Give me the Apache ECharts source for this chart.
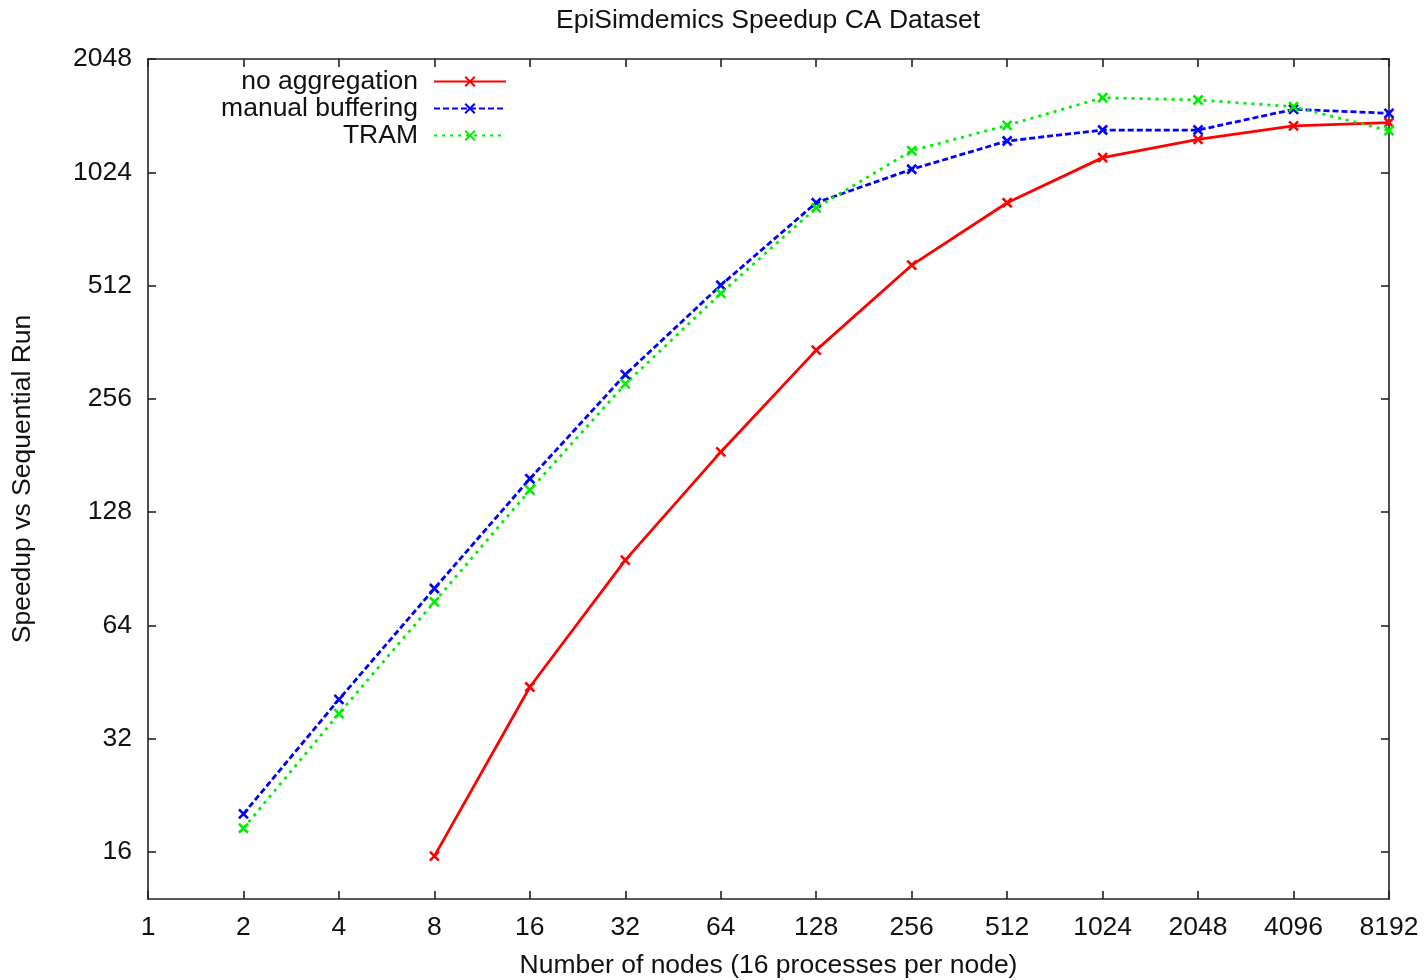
<!DOCTYPE html>
<html>
<head>
<meta charset="utf-8">
<script src="https://cdn.jsdelivr.net/npm/echarts@6/dist/echarts.min.js"></script>
<style>
  html, body { margin: 0; padding: 0; background: #fff; }
  #chart { width: 1424px; height: 980px; }
</style>
</head>
<body>
<div id="chart"></div>
<script>
// nodes (x) and speedup per series
const nodes = [2, 4, 8, 16, 32, 64, 128, 256, 512, 1024, 2048, 4096, 8192]
const noAggregation = [null, null, 15.6, 43.9, 95.4, 185, 345, 580, 850, 1120, 1253, 1360, 1387]
const manualBuffering = [20.2, 40.7, 80.2, 157, 297, 513, 850, 1043, 1240, 1326, 1326, 1505, 1469]
const tram = [18.5, 37.3, 73.9, 146.4, 280.5, 488, 824, 1168, 1365, 1616, 1594, 1530, 1321]

const xTicks = [1, 2, 4, 8, 16, 32, 64, 128, 256, 512, 1024, 2048, 4096, 8192]
const yTicks = [16, 32, 64, 128, 256, 512, 1024, 2048]

const FONT = 'Liberation Sans'
const FONT_SIZE = 26.5
const AXIS_COLOR = '#222'
const CROSS = 'path://M0,0L10,10M0,10L10,0'

const chart = echarts.init(document.getElementById('chart'))

function pairs(values) {
  return nodes.map((n, i) => [n, values[i]]).filter((p) => p[1] != null)
}

function makeSeries(name, values, color, dash) {
  return {
    name,
    type: 'line',
    data: pairs(values),
    symbol: CROSS,
    symbolSize: 9,
    showSymbol: true,
    lineStyle: { color, width: 2.8, type: dash },
    itemStyle: { color, borderColor: color, borderWidth: 2.6 },
    emphasis: { disabled: true },
    z: 3,
  }
}

const axisLine = { show: true, lineStyle: { color: AXIS_COLOR, width: 1.6 } }
const axisTick = { show: true, inside: true, length: 8, lineStyle: { color: AXIS_COLOR, width: 1.6 } }
const labelText = { fontFamily: FONT, fontSize: FONT_SIZE, color: '#111' }

function xAxis(position, showLabel) {
  return {
    type: 'log',
    logBase: 2,
    min: 1,
    max: 8192,
    position,
    axisLine,
    axisTick: { ...axisTick, customValues: xTicks },
    axisLabel: {
      ...labelText,
      show: showLabel,
      customValues: xTicks,
      margin: 15,
      formatter: (v) => String(Math.round(v)),
    },
    splitLine: { show: false },
    minorTick: { show: false },
  }
}

function yAxis(position, showLabel) {
  return {
    type: 'log',
    logBase: 2,
    min: 12,
    max: 2048,
    position,
    axisLine,
    axisTick: { ...axisTick, customValues: yTicks },
    axisLabel: {
      ...labelText,
      show: showLabel,
      customValues: yTicks,
      margin: 16,
      formatter: (v) => String(Math.round(v)),
    },
    splitLine: { show: false },
    minorTick: { show: false },
  }
}

chart.setOption({
  animation: false,
  title: {
    text: 'EpiSimdemics Speedup CA Dataset',
    left: 556,
    top: 7,
    padding: 0,
    textStyle: { ...labelText, fontWeight: 'normal' },
  },
  legend: {
    orient: 'vertical',
    right: 917,
    top: 68,
    padding: 0,
    align: 'right',
    itemGap: 0,
    itemWidth: 72,
    itemHeight: 12,
    textStyle: { ...labelText, lineHeight: 26, padding: [0, 11, 0, 0] },
    data: ['no aggregation', 'manual buffering', 'TRAM'],
  },
  grid: { left: 148, right: 35, top: 59, bottom: 81, containLabel: false, outerBoundsMode: 'none' },
  xAxis: [
    {
      ...xAxis('bottom', true),
      name: 'Number of nodes (16 processes per node)',
      nameLocation: 'middle',
      nameGap: 53,
      nameTextStyle: labelText,
    },
    xAxis('top', false),
  ],
  yAxis: [
    {
      ...yAxis('left', true),
      name: 'Speedup vs Sequential Run',
      nameLocation: 'middle',
      nameGap: 112,
      nameTextStyle: labelText,
    },
    yAxis('right', false),
  ],
  series: [
    makeSeries('no aggregation', noAggregation, '#ff0000', 'solid'),
    makeSeries('manual buffering', manualBuffering, '#0000ff', [6, 3]),
    makeSeries('TRAM', tram, '#00ee00', [3, 5]),
  ],
})

window.addEventListener('resize', () => chart.resize())
</script>
</body>
</html>
